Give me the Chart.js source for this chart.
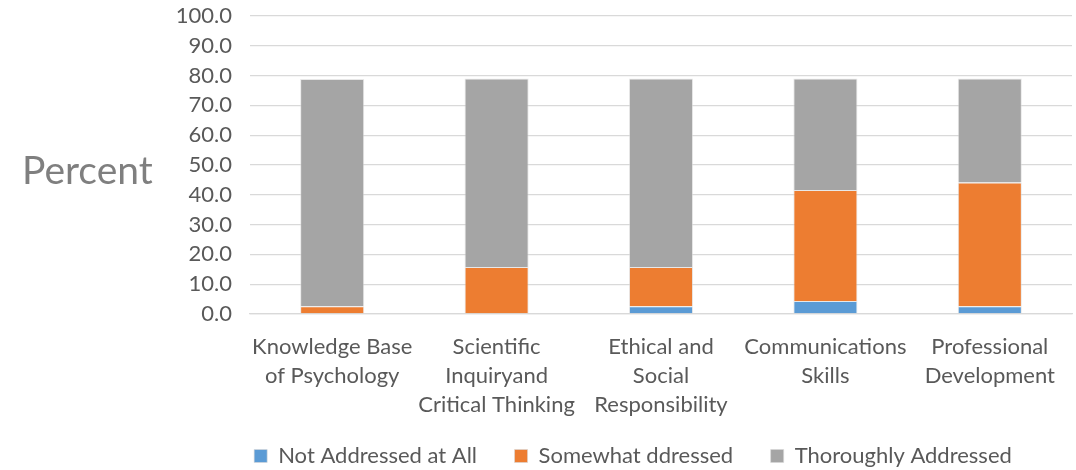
<!DOCTYPE html>
<html>
<head>
<meta charset="utf-8">
<script src="https://cdn.jsdelivr.net/npm/chart.js@4/dist/chart.umd.min.js"></script>
<style>
  html, body { margin: 0; padding: 0; background: #fff; }
  #wrap { width: 1076px; height: 470px; position: relative; }
</style>
</head>
<body>
<div id="wrap"><canvas id="chartCanvas"></canvas></div>
<script>
// categories and the three stacked series (percent of programs)
const categories = [
  ["Knowledge Base", "of Psychology"],
  ["Scientific", "Inquiryand", "Critical Thinking"],
  ["Ethical and", "Social", "Responsibility"],
  ["Communications", "Skills"],
  ["Professional", "Development"]
];
const notAddressed = [0.0, 0.0, 2.6, 4.4, 2.6];
const somewhatAddressed = [2.6, 15.8, 13.2, 37.2, 41.5];
const thoroughlyAddressed = [76.3, 63.2, 63.2, 37.4, 34.9];
const seriesNames = ["Not Addressed at All", "Somewhat ddressed", "Thoroughly Addressed"];
const yTicks = [0, 10, 20, 30, 40, 50, 60, 70, 80, 90, 100];

const textColor = "#595959";
const fontFamily = "Lato, 'Noto Sans', sans-serif";

// draws the horizontal "Percent" label to the left of the axis
const percentLabel = {
  id: "percentLabel",
  afterLayout(chart) {
    // legend sits a bit right of the page centre, under the plot
    chart.legend.left += 97;
    chart.legend.right += 97;
  },
  afterDraw(chart) {
    const ctx = chart.ctx;
    const area = chart.chartArea;
    ctx.save();
    ctx.fillStyle = "#7f7f7f";
    ctx.font = "39px " + fontFamily;
    ctx.textAlign = "left";
    ctx.textBaseline = "middle";
    ctx.fillText("Percent", 22, (area.top + area.bottom) / 2 + 6);
    ctx.restore();
  }
};

const canvas = document.getElementById("chartCanvas");
new Chart(canvas, {
  type: "bar",
  data: {
    labels: categories,
    datasets: [
      { label: seriesNames[0], data: notAddressed, backgroundColor: "#5b9bd5" },
      { label: seriesNames[1], data: somewhatAddressed, backgroundColor: "#ed7d31" },
      { label: seriesNames[2], data: thoroughlyAddressed, backgroundColor: "#a5a5a5" }
    ].map(d => Object.assign(d, {
      borderColor: "rgba(217,217,217,0.6)",
      borderWidth: 1,
      categoryPercentage: 1,
      barPercentage: 0.39
    }))
  },
  options: {
    responsive: true,
    maintainAspectRatio: false,
    animation: false,
    layout: { padding: { top: 16, right: 4, left: 0, bottom: -7 } },
    plugins: {
      tooltip: { enabled: false },
      legend: {
        position: "bottom",
        labels: {
          color: textColor,
          font: { family: fontFamily, size: 22 },
          boxWidth: 13,
          boxHeight: 13,
          padding: 21,
          // a wider gap between the legend entries
          generateLabels(chart) {
            const items = Chart.defaults.plugins.legend.labels.generateLabels(chart);
            items.forEach((it, i) => { if (i < items.length - 1) it.text += "\u2003"; });
            return items;
          }
        }
      }
    },
    scales: {
      x: {
        stacked: true,
        grid: { display: false },
        border: { color: "#d9d9d9", width: 1.3 },
        ticks: {
          color: textColor,
          font: { family: fontFamily, size: 22, lineHeight: 1.32 },
          maxRotation: 0,
          autoSkip: false,
          padding: 10
        },
        afterFit(scale) { scale.height = 110; }
      },
      y: {
        stacked: true,
        min: 0,
        max: 100,
        afterBuildTicks(scale) { scale.ticks = yTicks.map(v => ({ value: v })); },
        grid: { color: "#d9d9d9", lineWidth: 1.3, drawTicks: false },
        border: { display: false },
        ticks: {
          color: textColor,
          font: { family: fontFamily, size: 22 },
          padding: 18,
          autoSkip: false,
          callback: v => v.toFixed(1)
        },
        afterFit(scale) {
          scale.width = 250;
          scale.paddingTop = 0;
          scale.paddingBottom = 0;
        }
      }
    }
  },
  plugins: [percentLabel]
});
</script>
</body>
</html>
